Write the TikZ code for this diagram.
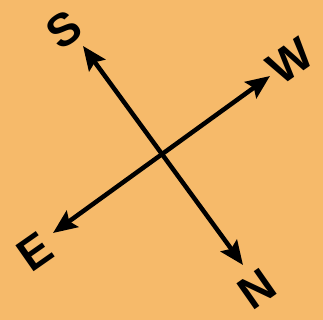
\documentclass[tikz,border=0pt]{standalone}
\usepackage{fontspec}
\setmainfont{Liberation Sans}
\usetikzlibrary{arrows.meta}
\definecolor{bgorange}{RGB}{246,186,106}
\begin{document}
\begin{tikzpicture}[x=1pt, y=-1pt, line join=round, line cap=round, >={Stealth[length=24pt,width=20pt,inset=4pt]}]
	\tikzset{letter/.style={font=\fontsize{46}{46}\selectfont\bfseries, rotate=35, inner sep=0pt}}
	\fill[bgorange] (0,0) rectangle (323,320);
	\useasboundingbox (0,0) rectangle (323,320);
	% Chu cai
	\node[letter] (S) at (64,30) {S};
	\node[letter] (W) at (290,61) {W};
	\node[letter] (E) at (35,252) {E};
	\node[letter] (N) at (257,289) {N};
	% Dau mui ten
	\coordinate (sTip) at (83,46);
	\coordinate (nTip) at (243,265);
	\coordinate (wTip) at (270,76);
	\coordinate (eTip) at (53,233);
	\draw[<->, line width=4.5pt] (sTip) -- (nTip);
	\draw[<->, line width=4.5pt] (eTip) -- (wTip);
\end{tikzpicture}
\end{document}
